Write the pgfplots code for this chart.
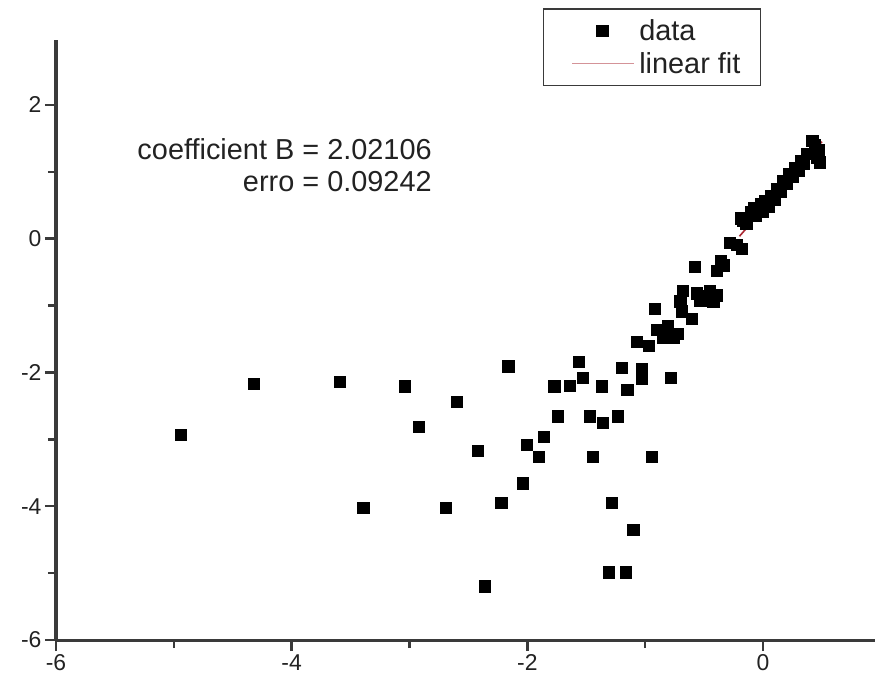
\documentclass[border=0pt]{standalone}
\usepackage{pgfplots}
\pgfplotsset{compat=1.18}
\usepackage{fontspec}
\setmainfont{Liberation Sans}
\definecolor{axgray}{HTML}{3A3A3A}
\definecolor{txtgray}{HTML}{222222}
\definecolor{fitred}{RGB}{170,40,50}
\pgfplotsset{
  legmark/.style={legend image code/.code={%
      \draw[##1] plot coordinates {(56bp,0bp)};\path (0bp,0bp) (90bp,0bp);}},
  legline/.style={legend image code/.code={%
      \draw[##1, line width=1.3bp, draw=fitred!50] (26bp,0bp) -- (88bp,0bp);\path (90bp,0bp);}},
}

\begin{document}
\begin{tikzpicture}
\begin{axis}[
    at={(0,0)}, anchor=south west,
    scale only axis,
    width=819bp, height=600bp,
    xmin=-6, xmax=0.95,
    ymin=-6, ymax=2.97,
    axis x line=bottom, axis y line=left,
    axis line style={-, draw=axgray, line width=3bp},
    xtick={-6,-4,-2,0}, xticklabels={-6,-4,-2,0},
    ytick={-6,-4,-2,0,2}, yticklabels={-6,-4,-2,0,2},
    minor tick num=1,
    tick align=outside,
    major tick length=11bp, minor tick length=8bp,
    tick style={draw=axgray, line width=2.4bp},
    major tick style={draw=axgray, line width=2.4bp},
    minor tick style={draw=axgray, line width=2.2bp},
    xtick style={draw=axgray, line width=2.4bp},
    ytick style={draw=axgray, line width=2.4bp},
    tick label style={font=\fontsize{23}{23}\selectfont, text=txtgray},
    legend style={at={(0.5946,1.0533)}, anchor=north west,
        draw=axgray, line width=1.5bp,
        font=\fontsize{29}{29}\selectfont, text=txtgray,
        inner xsep=2bp, inner ysep=9bp, row sep=6bp,
        nodes={inner sep=2bp}},
    legend cell align=left,
    clip=false,
]
% data points
\addplot[only marks, mark=square*, mark size=5.6bp, black,
    mark options={line width=0pt}, legmark]
coordinates {
(-4.94,-2.94) (-4.32,-2.17) (-3.59,-2.14) (-3.39,-4.03) (-3.04,-2.21)
(-2.92,-2.82) (-2.69,-4.03) (-2.60,-2.44) (-2.42,-3.18) (-2.36,-5.20)
(-2.22,-3.95) (-2.16,-1.91) (-2.04,-3.66) (-2.00,-3.09) (-1.90,-3.26)
(-1.86,-2.96) (-1.77,-2.21) (-1.74,-2.66) (-1.64,-2.20) (-1.56,-1.84)
(-1.53,-2.08) (-1.47,-2.66) (-1.44,-3.26) (-1.37,-2.21) (-1.36,-2.75)
(-1.31,-4.99) (-1.28,-3.95) (-1.23,-2.66) (-1.20,-1.93) (-1.16,-4.99)
(-1.15,-2.26) (-1.10,-4.35) (-1.03,-2.09) (-1.03,-1.95) (-0.94,-3.26)
(-0.78,-2.08)
(-1.07,-1.54) (-0.97,-1.61) (-0.90,-1.37) (-0.81,-1.31) (-0.76,-1.49)
(-0.85,-1.49) (-0.72,-1.42) (-0.92,-1.05)
(-0.68,-0.78) (-0.56,-0.82) (-0.45,-0.78) (-0.39,-0.85) (-0.42,-0.94)
(-0.53,-0.93) (-0.70,-0.94) (-0.69,-1.09) (-0.60,-1.20) (-0.50,-0.86)
(-0.58,-0.42) (-0.36,-0.33) (-0.39,-0.48) (-0.33,-0.40) (-0.28,-0.07)
(-0.18,-0.15) (-0.22,-0.10) (-0.17,0.27) (-0.08,0.45) (-0.02,0.52)
(-0.19,0.30) (-0.14,0.22) (-0.10,0.40) (-0.06,0.34) (0.00,0.40)
(0.02,0.56) (0.05,0.48) (0.07,0.64) (0.10,0.58) (0.12,0.74)
(0.15,0.70) (0.17,0.86) (0.20,0.82) (0.22,0.96) (0.25,0.92)
(0.27,1.06) (0.30,1.02) (0.32,1.16) (0.35,1.12) (0.37,1.26)
(0.40,1.26) (0.42,1.46) (0.44,1.40) (0.47,1.32) (0.46,1.20)
(0.48,1.14) (0.44,1.27)
};
\addlegendentry{data}
% linear fit
\addplot[fitred, line width=1.6bp, legline]
coordinates {(-0.20,0.036) (0.50,1.45)};
\addlegendentry{linear fit\hspace*{16bp}\mbox{}}
\node[anchor=east, text=txtgray, font=\fontsize{29}{29}\selectfont, inner sep=0pt]
    at (axis cs:-2.81,1.34) {coefficient B = 2.02106};
\node[anchor=east, text=txtgray, font=\fontsize{29}{29}\selectfont, inner sep=0pt]
    at (axis cs:-2.81,0.85) {erro = 0.09242};
\end{axis}
\pgfresetboundingbox
\path (-56bp,-44bp) rectangle (819bp,640bp);
\end{tikzpicture}
\end{document}
